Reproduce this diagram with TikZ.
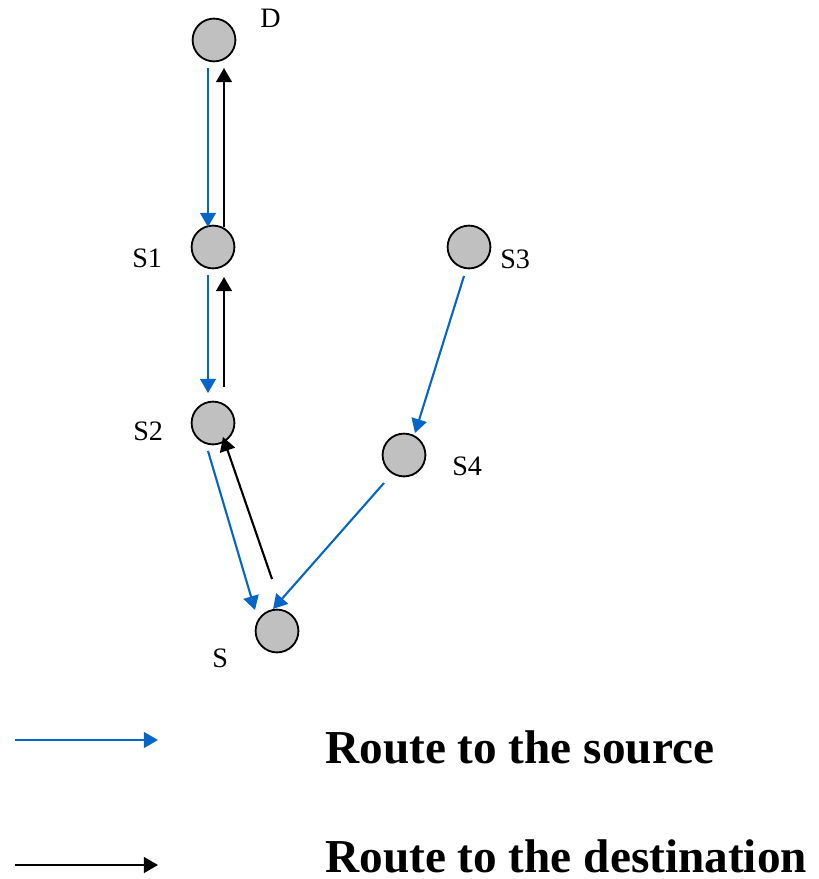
\documentclass[tikz,border=0pt]{standalone}
\usepackage{fontspec}
\setmainfont{Liberation Serif}
\usepackage{xcolor}
\usepackage{tikz}
\usetikzlibrary{positioning,arrows.meta,calc}
\definecolor{routeblue}{RGB}{5,102,200}
\definecolor{nodegray}{RGB}{192,192,192}

\begin{document}
\begin{tikzpicture}[x=0.025cm, y=-0.025cm,
            host/.style={draw, circle, fill=nodegray, line width=1.3pt, minimum size=1.07cm, inner sep=0pt},
            lbl/.style={anchor=base west, inner sep=0pt, font=\fontsize{20}{24}\selectfont},
            legtext/.style={anchor=base west, inner sep=0pt, font=\fontsize{33.6}{40}\selectfont\bfseries},
            tosrc/.style={-{Triangle[length=0.35cm, width=0.39cm]}, routeblue, line width=1.5pt},
            todst/.style={-{Triangle[length=0.35cm, width=0.39cm]}, black, line width=1.5pt}]
            \useasboundingbox (0,0) rectangle (818,879);

            \node[host] (D) at (214, 40) {};
            \node[host] (S1) at (213, 247) {};
            \node[host] (S2) at (213, 423) {};
            \node[host] (S3) at (469, 247) {};
            \node[host] (S4) at (404, 455) {};
            \node[host] (S) at (277, 631) {};

            \node[lbl] (D-lbl) at ($(D)+(46,-12)$) {D};
            \node[lbl] (S1-lbl) at ($(S1)+(-81,20)$) {S1};
            \node[lbl] (S2-lbl) at ($(S2)+(-80,17)$) {S2};
            \node[lbl] (S3-lbl) at ($(S3)+(31,21)$) {S3};
            \node[lbl] (S4-lbl) at ($(S4)+(48,20)$) {S4};
            \node[lbl] (S-lbl) at ($(S)+(-65,36)$) {S};

            % route back to the source
            \draw[tosrc] ($(D)+(-6,28)$) -- ($(S1)+(-5,-20)$);
            \draw[tosrc] ($(S1)+(-5,28)$) -- ($(S2)+(-5,-30)$);
            \draw[tosrc] ($(S2)+(-5,28)$) -- ($(S)+(-22,-21)$);
            \draw[tosrc] ($(S3)+(-5,29)$) -- ($(S4)+(11,-22)$);
            \draw[tosrc] ($(S4)+(-20,28)$) -- ($(S)+(-4,-22)$);

            % route to the destination
            \draw[todst] ($(S)+(-5,-52)$) -- ($(S2)+(10,14)$);
            \draw[todst] ($(S2)+(11,-36)$) -- ($(S1)+(11,30)$);
            \draw[todst] ($(S1)+(11,-20)$) -- ($(D)+(10,28)$);

            % legend
            \coordinate (src-a) at (15, 740);
            \coordinate (src-b) at (158, 740);
            \coordinate (dst-a) at (15, 865);
            \coordinate (dst-b) at (158, 865);
            \draw[tosrc] (src-a) -- (src-b);
            \draw[todst] (dst-a) -- (dst-b);
            \node[legtext] (src-txt) at (325, 763) {Route to the source};
            \node[legtext] (dst-txt) at (325, 872) {Route to the destination};
        \end{tikzpicture}
\end{document}
